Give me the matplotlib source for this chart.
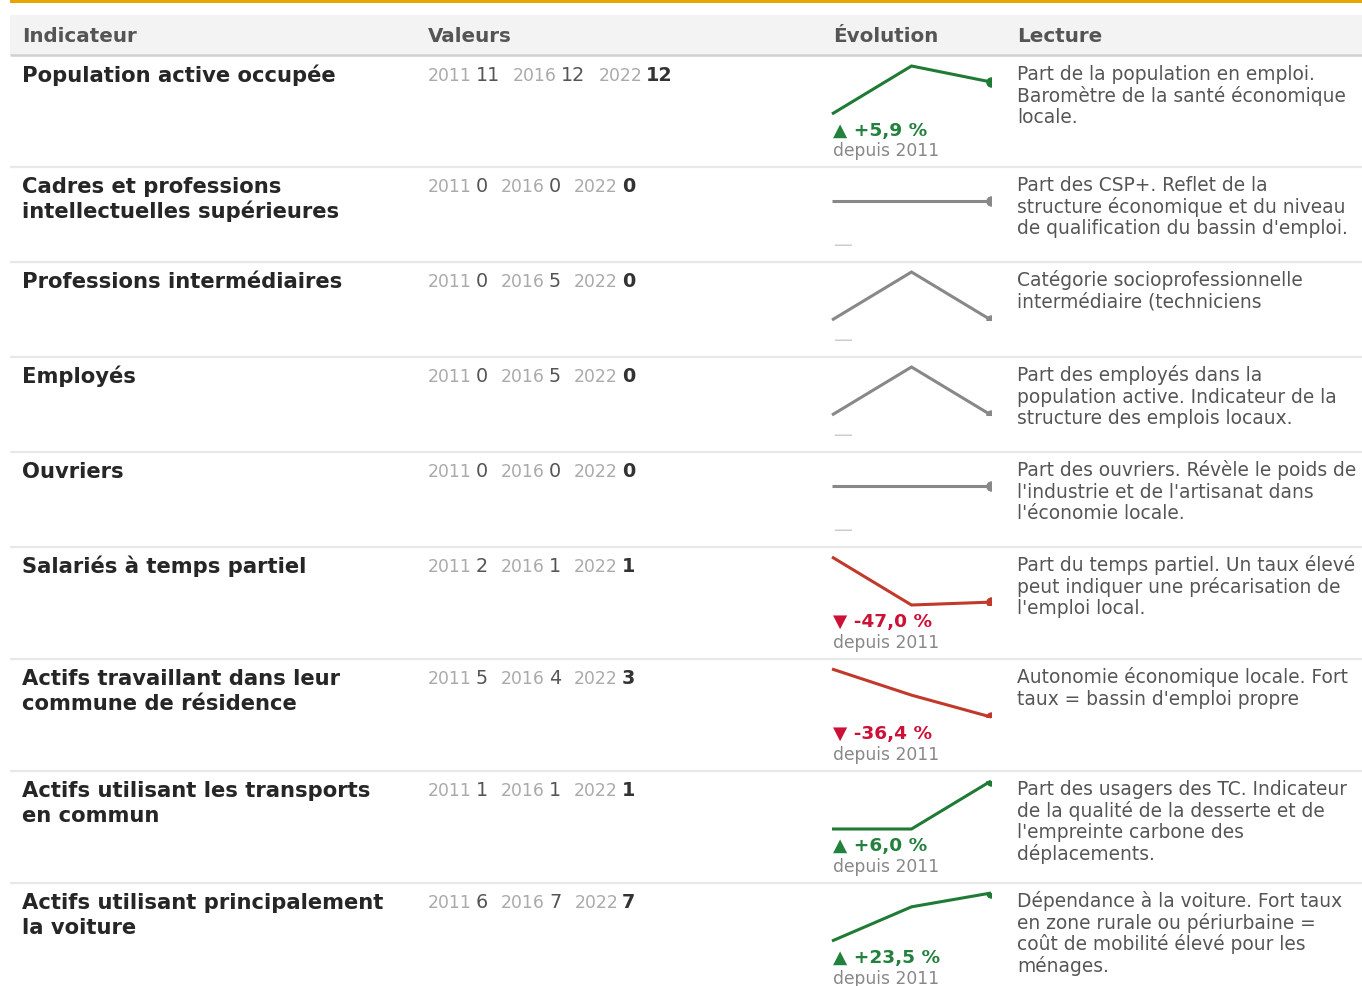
import matplotlib
matplotlib.use("Agg")
import matplotlib.pyplot as plt
from matplotlib.patches import Rectangle

plt.rcParams['font.family'] = ['DejaVu Sans']

# ---------------- data ----------------
headers = ["Indicateur", "Valeurs", "Évolution", "Lecture"]
years = ["2011", "2016", "2022"]
indicators = [
    ["Population active occupée"],
    ["Cadres et professions", "intellectuelles supérieures"],
    ["Professions intermédiaires"],
    ["Employés"],
    ["Ouvriers"],
    ["Salariés à temps partiel"],
    ["Actifs travaillant dans leur", "commune de résidence"],
    ["Actifs utilisant les transports", "en commun"],
    ["Actifs utilisant principalement", "la voiture"],
]
values_2011 = [11.3, 0, 0, 0, 0, 2.0, 4.95, 1.0, 5.8]
values_2016 = [12.3, 0, 5, 5, 0, 1.0, 3.97, 1.0, 6.77]
values_2022 = [11.967, 0, 0, 0, 0, 1.06, 3.15, 1.06, 7.163]
readings = [
    ["Part de la population en emploi.", "Baromètre de la santé économique", "locale."],
    ["Part des CSP+. Reflet de la", "structure économique et du niveau", "de qualification du bassin d'emploi."],
    ["Catégorie socioprofessionnelle", "intermédiaire (techniciens"],
    ["Part des employés dans la", "population active. Indicateur de la", "structure des emplois locaux."],
    ["Part des ouvriers. Révèle le poids de", "l'industrie et de l'artisanat dans", "l'économie locale."],
    ["Part du temps partiel. Un taux élevé", "peut indiquer une précarisation de", "l'emploi local."],
    ["Autonomie économique locale. Fort", "taux = bassin d'emploi propre"],
    ["Part des usagers des TC. Indicateur", "de la qualité de la desserte et de", "l'empreinte carbone des", "déplacements."],
    ["Dépendance à la voiture. Fort taux", "en zone rurale ou périurbaine =", "coût de mobilité élevé pour les", "ménages."],
]

# ---------------- layout (pixels) ----------------
W, H = 1362, 987
DPI = 100
row_tops = [57, 168, 263, 358, 453, 548, 660, 772, 884]
col_x = [22, 428, 833, 1017]
spark_x0, spark_x1 = 832, 991

GREEN_LINE = "#1f7a35"
GREEN_TXT = "#23803d"
RED_LINE = "#c0392b"
RED_TXT = "#cc1136"
GREY_LINE = "#888888"

fig = plt.figure(figsize=(W / DPI, H / DPI), dpi=DPI)
bg = fig.add_axes([0, 0, 1, 1])
bg.set_xlim(0, W)
bg.set_ylim(H, 0)
bg.axis("off")

# top orange line
bg.add_patch(Rectangle((10, 0), W - 10, 3.5, color="#e8a400", lw=0))
# header band
bg.add_patch(Rectangle((10, 15.5), W - 10, 40, color="#f3f3f3", lw=0))
bg.plot([10, W], [56, 56], color="#d0d0d0", lw=1.8, solid_capstyle="butt")
for x, h in zip(col_x, headers):
    bg.text(x, 42, h, fontsize=14.3, fontweight="bold", color="#555555",
            va="baseline", ha="left")

# row separators
for t in row_tops[1:]:
    bg.plot([10, W], [t, t], color="#e8e8e8", lw=1.6, solid_capstyle="butt")

fig.canvas.draw()
renderer = fig.canvas.get_renderer()


def text_width(t):
    bb = t.get_window_extent(renderer=renderer)
    return bb.width


for i, top in enumerate(row_tops):
    # indicator name
    for k, line in enumerate(indicators[i]):
        bg.text(col_x[0], top + 25 + 25 * k, line, fontsize=15.2, fontweight="bold",
                color="#262626", va="baseline", ha="left")

    # values in flow
    vals = [values_2011[i], values_2016[i], values_2022[i]]
    x = col_x[1]
    for j, (yr, v) in enumerate(zip(years, vals)):
        t = bg.text(x, top + 24, yr, fontsize=12.4, color="#aaaaaa",
                    va="baseline", ha="left")
        x += text_width(t) + 4
        t = bg.text(x, top + 24, f"{int(round(v))}", fontsize=13.8,
                    fontweight="bold" if j == 2 else "normal",
                    color="#333333" if j == 2 else "#555555",
                    va="baseline", ha="left")
        x += text_width(t) + 13

    # sparkline
    y_top = top + 10
    y_bot = top + 58
    ax = fig.add_axes([spark_x0 / W, 1 - y_bot / H,
                       (spark_x1 - spark_x0) / W, (y_bot - y_top) / H])
    ax.axis("off")
    v0 = vals[0]
    if v0 == 0:
        color = GREY_LINE
        pct = None
    else:
        pct = (vals[2] - v0) / v0 * 100
        color = GREEN_LINE if pct >= 0 else RED_LINE
    lo, hi = min(vals), max(vals)
    if hi == lo:
        ax.set_ylim(lo - 1, hi + 1)
    else:
        ax.set_ylim(lo, hi)
    ax.set_xlim(0, 2)
    ax.plot([0, 1, 2], vals, color=color, lw=2.2, solid_capstyle="butt",
            solid_joinstyle="miter", clip_on=False)
    ax.plot([2], [vals[2]], marker="o", ms=6.5, color=color, clip_on=True)

    # percentage
    if pct is None:
        bg.text(833, top + 83, "—", fontsize=13.7, color="#cccccc",
                va="baseline", ha="left")
    else:
        arrow = "▲" if pct >= 0 else "▼"
        s = f"{pct:+.1f}".replace(".", ",")
        bg.text(833, top + 79, f"{arrow} {s} %", fontsize=13.3, fontweight="bold",
                color=GREEN_TXT if pct >= 0 else RED_TXT, va="baseline", ha="left")
        bg.text(833, top + 99.5, "depuis 2011", fontsize=12.35, color="#888888",
                va="baseline", ha="left")

    # reading text
    for k, line in enumerate(readings[i]):
        bg.text(col_x[3], top + 23 + 21.7 * k, line, fontsize=13.4, color="#555555",
                va="baseline", ha="left")

fig.savefig("out.png", dpi=DPI)
